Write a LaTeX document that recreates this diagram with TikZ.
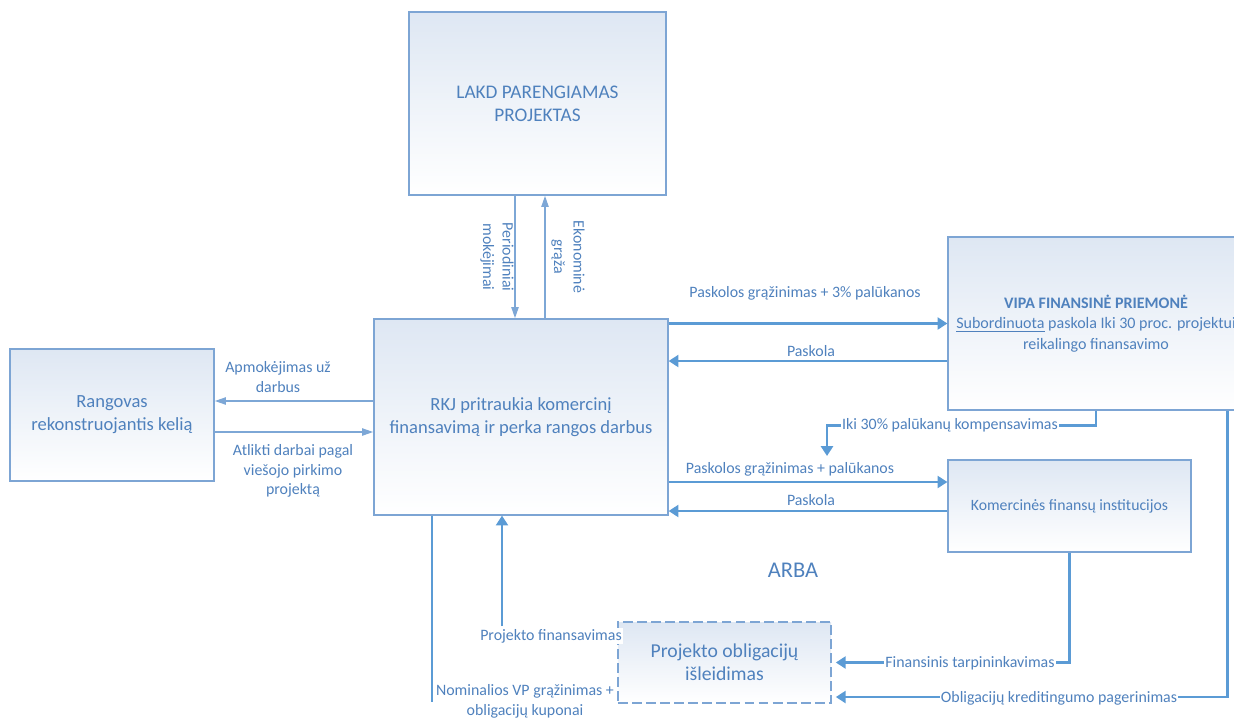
\documentclass[tikz,border=0pt]{standalone}
\usepackage{fontspec}
\setmainfont{Carlito}
\usetikzlibrary{arrows.meta,positioning}
\definecolor{txtblue}{RGB}{79,129,189}
\definecolor{flowblue}{RGB}{91,155,213}
\definecolor{paleflow}{RGB}{125,167,214}
\definecolor{boxline}{RGB}{125,165,212}
\definecolor{boxtop}{RGB}{222,231,243}

\begin{document}
\begin{tikzpicture}[x=0.025cm, y=-0.025cm,
  box/.style={draw=boxline, top color=boxtop, bottom color=white, line width=0.8pt, align=center, text=txtblue, font=\fontsize{13.2}{16.3}\selectfont},
  lbl/.style={text=txtblue, font=\fontsize{11.3}{14}\selectfont, align=center, inner sep=1pt},
  bigarrow/.style={draw=flowblue, line width=2.1pt, -{Triangle[length=7pt,width=8.5pt]}},
  bigline/.style={draw=flowblue, line width=2.1pt},
  thinarrow/.style={draw=paleflow, line width=1.4pt, -{Triangle[length=8pt,width=5pt]}}]
\useasboundingbox (0,0) rectangle (1234,718);
\clip (0,0) rectangle (1234,718);
% Nodes
\node[box, minimum width=6.425cm, minimum height=4.575cm, font=\fontsize{13.7}{16.3}\selectfont] (lakd) at (537.5,103.5) {LAKD PARENGIAMAS\\PROJEKTAS};
\node[box, minimum width=7.35cm, minimum height=4.9cm] (rkj) at (521,417) {RKJ pritraukia komercinį\\finansavimą ir perka rangos darbus};
\node[box, minimum width=5.1cm, minimum height=3.3cm] (rang) at (112,415) {Rangovas\\rekonstruojantis kelią};
\node[box, minimum width=7.4cm, minimum height=4.325cm, font=\fontsize{11.4}{14.5}\selectfont] (vipa) at (1096,323.5) {\textbf{VIPA FINANSINĖ PRIEMONĖ}\\\underline{Subordinuota} paskola Iki 30 proc. projektui\\reikalingo finansavimo};
\node[box, minimum width=6.075cm, minimum height=2.3cm, font=\fontsize{11.2}{13}\selectfont] (kom) at (1069.5,506) {Komercinės finansų institucijos};
\node[box, dashed, dash pattern=on 7pt off 3pt, minimum width=5.325cm, minimum height=2.025cm, font=\fontsize{14}{16.3}\selectfont] (obl) at (724.5,662.5) {Projekto obligacijų\\išleidimas};
\node[text=txtblue, font=\fontsize{16}{18}\selectfont] (arba) at (793,570) {ARBA};
\coordinate (kompend) at (827,456);
\coordinate (pfstart) at (502,626);
\coordinate (nomend) at (432,702);
% Connectors
\draw[thinarrow] ([xshift=-0.5625cm]lakd.south) -- ([xshift=-0.15cm]rkj.north);
\draw[thinarrow] ([xshift=0.6cm]rkj.north) -- ([xshift=0.1875cm]lakd.south);
\draw[thinarrow] ([yshift=0.35cm]rang.east -| rkj.west) -- ([yshift=0.35cm]rang.east);
\draw[thinarrow] ([yshift=-0.425cm]rang.east) -- ([yshift=-0.425cm]rang.east -| rkj.west);
\draw[bigarrow] (rkj.east |- vipa.west) -- (vipa.west);
\draw[bigarrow] ([yshift=-0.9375cm]vipa.west) -- ([yshift=-0.9375cm]vipa.west -| rkj.east);
\draw[bigarrow] (vipa.south) -- ++(0,15) -| (kompend);
\draw[bigarrow] ([yshift=0.6cm]kom.west -| rkj.east) -- ([yshift=0.6cm]kom.west);
\draw[bigarrow] ([yshift=-0.125cm]kom.west) -- ([yshift=-0.125cm]kom.west -| rkj.east);
\draw[bigarrow, shorten >=3pt] (kom.south) |- (obl.east);
\draw[bigarrow, shorten >=3pt] ([xshift=3.275cm]vipa.south) |- ([yshift=-0.8625cm]obl.east);
\draw[bigarrow] (pfstart) -- (rkj.south -| pfstart);
\draw[bigline] (rkj.south -| nomend) -- (nomend);
% Labels
\node[lbl, rotate=-90] (lpm) at (497,257) {Periodiniai\\mokėjimai};
\node[lbl, rotate=-90] (leg) at (568,257) {Ekonominė\\grąža};
\node[lbl] (lapm) at (278,377) {Apmokėjimas už\\darbus};
\node[lbl] (latl) at (293,471) {Atlikti darbai pagal\\viešojo pirkimo\\projektą};
\node[lbl] (lpg3) at (805,293) {Paskolos grąžinimas + 3\% palūkanos};
\node[lbl] (lpv) at (811,351) {Paskola};
\node[lbl, fill=white] (liki) at (950,425) {Iki 30\% palūkanų kompensavimas};
\node[lbl] (lpg) at (790,469) {Paskolos grąžinimas + palūkanos};
\node[lbl] (lpk) at (811,500) {Paskola};
\node[lbl, fill=white] (lfin) at (970,663) {Finansinis tarpininkavimas};
\node[lbl, fill=white] (lobl) at (1059,698) {Obligacijų kreditingumo pagerinimas};
\node[lbl, fill=white] (lpf) at (551,636) {Projekto finansavimas};
\node[lbl] (lnom) at (525,701) {Nominalios VP grąžinimas +\\obligacijų kuponai};
\end{tikzpicture}
\end{document}
